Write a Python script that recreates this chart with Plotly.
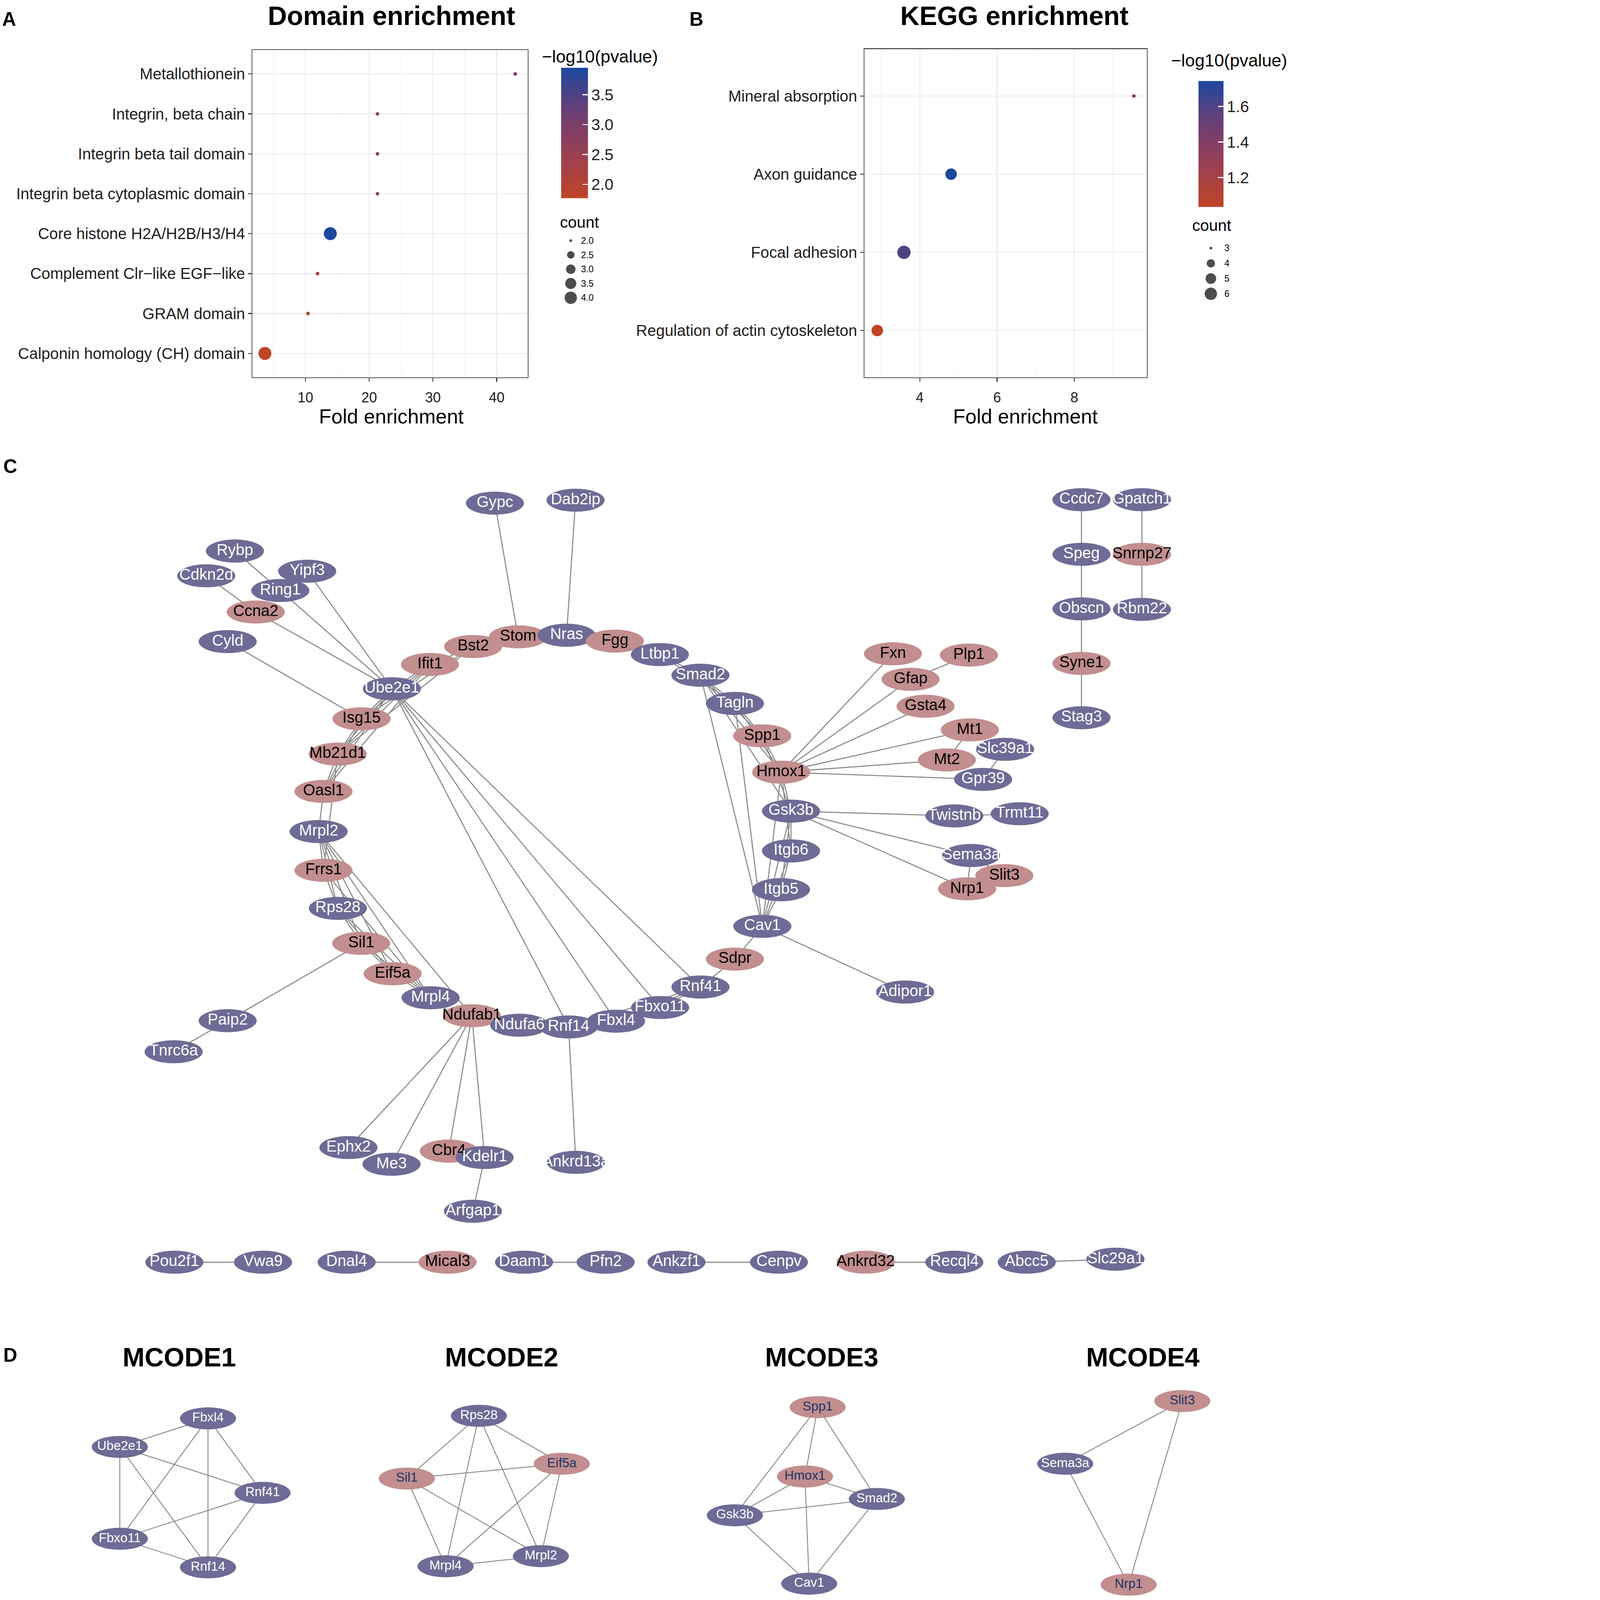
import numpy as np
import plotly.graph_objects as go

FONT = "Liberation Sans, Arial, Helvetica, sans-serif"
W, H = 4299, 5312
DW, DH = 1270.0, 1568.0          # design grid used for panels C/D and labels

# ---------------------------------------------------------------- Panel A data
domain_terms = ["Metallothionein", "Integrin, beta chain", "Integrin beta tail domain",
                "Integrin beta cytoplasmic domain", "Core histone H2A/H2B/H3/H4",
                "Complement Clr\u2212like EGF\u2212like", "GRAM domain",
                "Calponin homology (CH) domain"]
domain_fold = [42.9, 21.3, 21.3, 21.3, 13.9, 11.9, 10.4, 3.65]
domain_logp = [3.15, 2.55, 2.55, 2.55, 3.95, 2.25, 2.15, 1.77]
domain_count = [2, 2, 2, 2, 4, 2, 2, 4]
domain_x_ticks = [10, 20, 30, 40]
domain_cbar_ticks = [2.0, 2.5, 3.0, 3.5]
domain_count_breaks = [2.0, 2.5, 3.0, 3.5, 4.0]

# ---------------------------------------------------------------- Panel B data
kegg_terms = ["Mineral absorption", "Axon guidance", "Focal adhesion",
              "Regulation of actin cytoskeleton"]
kegg_fold = [9.54, 4.81, 3.59, 2.90]
kegg_logp = [1.38, 1.743, 1.60, 1.035]
kegg_count = [3, 5, 6, 5]
kegg_x_ticks = [4, 6, 8]
kegg_cbar_ticks = [1.2, 1.4, 1.6]
kegg_count_breaks = [3, 4, 5, 6]

# ---------------------------------------------------------------- Panel C data
net_nodes = ["Gypc", "Dab2ip", "Rybp", "Cdkn2d", "Yipf3", "Ring1", "Ccna2", "Cyld",
             "Ube2e1", "Ifit1", "Bst2", "Stom", "Nras", "Fgg", "Ltbp1", "Smad2", "Tagln",
             "Spp1", "Hmox1", "Gsk3b", "Itgb6", "Itgb5", "Cav1", "Sdpr", "Rnf41", "Fbxo11",
             "Ndufab1", "Ndufa6", "Rnf14", "Fbxl4", "Mrpl4", "Eif5a", "Sil1", "Rps28",
             "Frrs1", "Mrpl2", "Oasl1", "Mb21d1", "Isg15",
             "Fxn", "Plp1", "Gfap", "Gsta4", "Mt1", "Mt2", "Slc39a1", "Gpr39", "Twistnb",
             "Trmt11", "Sema3a", "Nrp1", "Slit3", "Adipor1",
             "Paip2", "Tnrc6a", "Ephx2", "Me3", "Cbr4", "Kdelr1", "Arfgap1", "Ankrd13a",
             "Ccdc7", "Gpatch1", "Speg", "Snrnp27", "Obscn", "Rbm22", "Syne1", "Stag3",
             "Pou2f1", "Vwa9", "Dnal4", "Mical3", "Daam1", "Pfn2", "Ankzf1", "Cenpv",
             "Ankrd32", "Recql4", "Abcc5", "Slc29a1"]
net_x = [485.4, 564.5, 230.4, 202.3, 301.3, 274.9, 250.8, 223.3,
         384.4, 421.7, 464.1, 508.1, 555.7, 603.1, 647.2, 687.0, 720.8,
         747.6, 766.2, 775.8, 775.8, 766.0, 747.7, 720.8, 687.0, 647.4,
         462.8, 509.3, 557.7, 604.2, 422.3, 385.1, 354.3, 331.4,
         317.3, 312.5, 317.3, 331.2, 354.6,
         875.8, 950.3, 893.1, 907.8, 951.2, 928.7, 985.8, 964.2, 936.0,
         1000.1, 952.4, 948.5, 985.0, 887.7,
         223.3, 170.3, 341.8, 384.0, 440.2, 475.3, 463.8, 564.8,
         1060.7, 1120.0, 1060.7, 1120.0, 1060.7, 1120.0, 1060.7, 1060.7,
         171, 258, 340, 439, 514, 594, 663.5, 764, 849, 936, 1007, 1094]
net_y = [493.1, 490.2, 540.0, 564.3, 559.8, 578.7, 599.8, 628.8,
         675.0, 651.2, 633.6, 624.1, 622.5, 628.3, 641.5, 661.7, 689.4,
         721.1, 756.7, 794.9, 833.9, 871.9, 907.8, 939.9, 967.3, 987.4,
         995.4, 1004.7, 1006.4, 1000.8, 977.8, 954.3, 924.5, 890.2,
         852.9, 814.9, 775.6, 739.0, 704.5,
         640.7, 642.0, 665.7, 692.1, 715.3, 744.8, 734.3, 763.8, 799.6,
         797.5, 838.4, 871.1, 858.1, 972.2,
         1000.3, 1030.7, 1124.6, 1141.0, 1128.1, 1134.4, 1187.0, 1139.1,
         489.7, 489.7, 543.2, 543.2, 596.7, 597.2, 650.2, 703.4,
         1237, 1237, 1237, 1237, 1237, 1237, 1237, 1237, 1237, 1237, 1237, 1234]
pink_nodes = {"Ccna2", "Ifit1", "Bst2", "Stom", "Fgg", "Spp1", "Hmox1", "Sdpr", "Ndufab1",
              "Eif5a", "Sil1", "Frrs1", "Oasl1", "Mb21d1", "Isg15", "Fxn", "Plp1", "Gfap",
              "Gsta4", "Mt1", "Mt2", "Nrp1", "Slit3", "Cbr4", "Snrnp27", "Syne1", "Mical3",
              "Ankrd32"}
net_edges = [
    ("Rybp", "Ring1"), ("Ring1", "Ube2e1"), ("Yipf3", "Ube2e1"), ("Cdkn2d", "Ccna2"),
    ("Ccna2", "Ube2e1"), ("Cyld", "Isg15"), ("Gypc", "Stom"), ("Dab2ip", "Nras"),
    ("Ube2e1", "Ifit1"), ("Ube2e1", "Isg15"), ("Ube2e1", "Mb21d1"), ("Ube2e1", "Oasl1"),
    ("Ifit1", "Isg15"), ("Ifit1", "Mb21d1"), ("Ifit1", "Oasl1"), ("Bst2", "Ifit1"),
    ("Bst2", "Isg15"), ("Bst2", "Mb21d1"), ("Isg15", "Mb21d1"), ("Isg15", "Oasl1"),
    ("Mb21d1", "Oasl1"), ("Mb21d1", "Frrs1"), ("Oasl1", "Mrpl2"), ("Mrpl2", "Frrs1"),
    ("Mrpl2", "Rps28"), ("Mrpl2", "Sil1"), ("Mrpl2", "Eif5a"), ("Mrpl2", "Mrpl4"),
    ("Mrpl2", "Ndufab1"), ("Frrs1", "Rps28"), ("Frrs1", "Mrpl4"), ("Rps28", "Sil1"),
    ("Rps28", "Eif5a"), ("Rps28", "Mrpl4"), ("Sil1", "Eif5a"), ("Sil1", "Mrpl4"),
    ("Eif5a", "Mrpl4"), ("Sil1", "Paip2"), ("Paip2", "Tnrc6a"), ("Ndufab1", "Ndufa6"),
    ("Ndufab1", "Ephx2"), ("Ndufab1", "Me3"), ("Ndufab1", "Cbr4"), ("Ndufab1", "Kdelr1"),
    ("Kdelr1", "Arfgap1"), ("Rnf14", "Ankrd13a"), ("Ube2e1", "Rnf14"), ("Ube2e1", "Fbxl4"),
    ("Ube2e1", "Fbxo11"), ("Ube2e1", "Rnf41"), ("Rnf41", "Fbxo11"), ("Rnf41", "Fbxl4"),
    ("Rnf41", "Rnf14"), ("Fbxo11", "Fbxl4"), ("Fbxo11", "Rnf14"), ("Fbxl4", "Rnf14"),
    ("Rnf41", "Sdpr"), ("Sdpr", "Cav1"), ("Cav1", "Adipor1"), ("Cav1", "Itgb5"),
    ("Cav1", "Itgb6"), ("Cav1", "Gsk3b"), ("Cav1", "Hmox1"), ("Cav1", "Tagln"),
    ("Cav1", "Smad2"), ("Itgb5", "Itgb6"), ("Itgb5", "Gsk3b"), ("Itgb6", "Gsk3b"),
    ("Itgb6", "Hmox1"), ("Gsk3b", "Hmox1"), ("Gsk3b", "Spp1"), ("Gsk3b", "Smad2"),
    ("Hmox1", "Spp1"), ("Hmox1", "Smad2"), ("Spp1", "Smad2"), ("Spp1", "Tagln"),
    ("Tagln", "Smad2"), ("Tagln", "Ltbp1"), ("Ltbp1", "Smad2"), ("Tagln", "Hmox1"),
    ("Hmox1", "Fxn"), ("Hmox1", "Gfap"), ("Gfap", "Plp1"), ("Hmox1", "Gsta4"),
    ("Hmox1", "Mt1"), ("Hmox1", "Mt2"), ("Mt1", "Mt2"), ("Hmox1", "Gpr39"),
    ("Slc39a1", "Gpr39"), ("Gsk3b", "Twistnb"), ("Twistnb", "Trmt11"), ("Gsk3b", "Sema3a"),
    ("Gsk3b", "Nrp1"), ("Sema3a", "Nrp1"), ("Sema3a", "Slit3"), ("Slit3", "Nrp1"),
    ("Ccdc7", "Speg"), ("Speg", "Obscn"), ("Obscn", "Syne1"), ("Syne1", "Stag3"),
    ("Gpatch1", "Snrnp27"), ("Snrnp27", "Rbm22"), ("Pou2f1", "Vwa9"), ("Dnal4", "Mical3"),
    ("Daam1", "Pfn2"), ("Ankzf1", "Cenpv"), ("Ankrd32", "Recql4"), ("Abcc5", "Slc29a1"),
]

# ---------------------------------------------------------------- Panel D data
mcode_titles = ["MCODE1", "MCODE2", "MCODE3", "MCODE4"]
mcode1_nodes = ["Fbxl4", "Ube2e1", "Rnf41", "Fbxo11", "Rnf14"]
mcode1_x = [204, 117.5, 257.5, 117.5, 204]
mcode1_y = [1390, 1418, 1463, 1508, 1536]
mcode1_edges = [("Ube2e1", "Fbxl4"), ("Ube2e1", "Rnf41"), ("Ube2e1", "Fbxo11"), ("Ube2e1", "Rnf14"),
                ("Fbxl4", "Rnf41"), ("Fbxl4", "Fbxo11"), ("Fbxl4", "Rnf14"), ("Rnf41", "Fbxo11"),
                ("Rnf41", "Rnf14"), ("Fbxo11", "Rnf14")]
mcode2_nodes = ["Rps28", "Eif5a", "Sil1", "Mrpl4", "Mrpl2"]
mcode2_x = [469.7, 551, 399, 437, 530.5]
mcode2_y = [1387.5, 1434.5, 1449, 1535, 1525]
mcode2_edges = [("Rps28", "Sil1"), ("Rps28", "Eif5a"), ("Rps28", "Mrpl4"), ("Rps28", "Mrpl2"),
                ("Sil1", "Eif5a"), ("Sil1", "Mrpl4"), ("Sil1", "Mrpl2"), ("Eif5a", "Mrpl4"),
                ("Eif5a", "Mrpl2"), ("Mrpl4", "Mrpl2")]
mcode3_nodes = ["Spp1", "Hmox1", "Smad2", "Gsk3b", "Cav1"]
mcode3_x = [802, 789.5, 860, 720.7, 793.6]
mcode3_y = [1379, 1447, 1469, 1485, 1552]
mcode3_edges = [("Spp1", "Gsk3b"), ("Spp1", "Hmox1"), ("Spp1", "Smad2"), ("Hmox1", "Gsk3b"),
                ("Hmox1", "Smad2"), ("Hmox1", "Cav1"), ("Gsk3b", "Smad2"), ("Gsk3b", "Cav1"),
                ("Smad2", "Cav1")]
mcode4_nodes = ["Slit3", "Sema3a", "Nrp1"]
mcode4_x = [1159.6, 1044.7, 1107]
mcode4_y = [1373, 1434.5, 1553]
mcode4_edges = [("Slit3", "Sema3a"), ("Slit3", "Nrp1"), ("Sema3a", "Nrp1")]

# ---------------------------------------------------------------- styling
CSCALE = [[0, "#BF4426"], [0.25, "#A44147"], [0.5, "#853E63"], [0.75, "#59407F"], [1, "#1C479E"]]
PINK, PURPLE, EDGE = "#C28E8E", "#6E6B96", "#888888"
AX_TEXT = "#1E1E1E"


def dot_size(c, lo, hi, dmin=9, dmax=41):
    return dmin + (dmax - dmin) * np.sqrt((np.asarray(c, float) - lo) / (hi - lo))


def expand(vals, f=0.05):
    lo, hi = min(vals), max(vals)
    return [lo - f * (hi - lo), hi + f * (hi - lo)]


fig = go.Figure()

# ---- Panel A / B points
fig.add_trace(go.Scatter(x=domain_fold, y=domain_terms, mode="markers", xaxis="x", yaxis="y",
                         marker=dict(size=dot_size(domain_count, min(domain_count), max(domain_count), 12, 43),
                                     color=domain_logp, coloraxis="coloraxis", opacity=1,
                                     line=dict(width=0)),
                         showlegend=False, hoverinfo="skip"))
fig.add_trace(go.Scatter(x=kegg_fold, y=kegg_terms, mode="markers", xaxis="x2", yaxis="y2",
                         marker=dict(size=dot_size(kegg_count, min(kegg_count), max(kegg_count), 12, 44),
                                     color=kegg_logp, coloraxis="coloraxis2", opacity=1,
                                     line=dict(width=0)),
                         showlegend=False, hoverinfo="skip"))

# ---- size legends (drawn on the overlay grid)
legA_x, legA_y0, legA_dy = 559.8, 235.8, 14.0
legB_x, legB_y0, legB_dy = 1187.6, 243.2, 14.9
fig.add_trace(go.Scatter(x=[legA_x] * len(domain_count_breaks),
                         y=[legA_y0 + i * legA_dy for i in range(len(domain_count_breaks))],
                         mode="markers", xaxis="x3", yaxis="y3", hoverinfo="skip", showlegend=False,
                         marker=dict(color="black", line=dict(width=0),
                                     size=dot_size(domain_count_breaks, min(domain_count_breaks),
                                                   max(domain_count_breaks)))))
fig.add_trace(go.Scatter(x=[legB_x] * len(kegg_count_breaks),
                         y=[legB_y0 + i * legB_dy for i in range(len(kegg_count_breaks))],
                         mode="markers", xaxis="x3", yaxis="y3", hoverinfo="skip", showlegend=False,
                         marker=dict(color="black", line=dict(width=0),
                                     size=dot_size(kegg_count_breaks, min(kegg_count_breaks),
                                                   max(kegg_count_breaks)))))

annotations = []


def ann(text, x, y, size, bold=False, xanchor="center", color="black", yanchor="middle"):
    annotations.append(dict(text=text, x=x, y=y, xref="x3", yref="y3", showarrow=False,
                            xanchor=xanchor, yanchor=yanchor,
                            font=dict(family=FONT, size=size, color=color,
                                      weight="bold" if bold else "normal")))


for i, v in enumerate(domain_count_breaks):
    ann(f"{v:.1f}", legA_x + 9.5, legA_y0 + i * legA_dy, 30, xanchor="left")
for i, v in enumerate(kegg_count_breaks):
    ann(f"{v}", legB_x + 12.7, legB_y0 + i * legB_dy, 30, xanchor="left")

ann("count", 548.6, 217.8, 53, xanchor="left")
ann("count", 1168.7, 220.8, 53, xanchor="left")
ann("\u2212log10(pvalue)", 530.9, 55.2, 58, xanchor="left")
ann("\u2212log10(pvalue)", 1148.0, 59.0, 58, xanchor="left")
ann("Domain enrichment", 384, 15.5, 88, bold=True)
ann("KEGG enrichment", 995, 15.5, 88, bold=True)
ann("Fold enrichment", 384, 408, 67)
ann("Fold enrichment", 1005.6, 408, 67)
for lab, (lx, ly) in zip(["A", "B", "C", "D"], [(9, 19), (683, 19), (10, 457), (10, 1328)]):
    ann(lab, lx, ly, 64, bold=True)
for t, tx in zip(mcode_titles, [176, 492, 806, 1121]):
    ann(t, tx, 1330, 88, bold=True)

# ---- network shapes
shapes = []
pos = {n: (x, y) for n, x, y in zip(net_nodes, net_x, net_y)}


def edge_shapes(edges, p, width):
    for a, b in edges:
        shapes.append(dict(type="line", xref="x3", yref="y3", x0=p[a][0], y0=p[a][1],
                           x1=p[b][0], y1=p[b][1], line=dict(color=EDGE, width=width),
                           layer="below"))


def node_shapes(names, p, rx, ry):
    for n in names:
        x, y = p[n]
        shapes.append(dict(type="circle", xref="x3", yref="y3", x0=x - rx, x1=x + rx,
                           y0=y - ry, y1=y + ry, fillcolor=PINK if n in pink_nodes else PURPLE,
                           line=dict(width=0), layer="below"))


edge_shapes(net_edges, pos, 3.5)
node_shapes(net_nodes, pos, 28.5, 11.3)
fig.add_trace(go.Scatter(x=net_x, y=net_y, text=net_nodes, mode="text", xaxis="x3", yaxis="y3",
                         textposition="middle center", hoverinfo="skip", showlegend=False,
                         textfont=dict(family=FONT, size=52,
                                       color=["black" if n in pink_nodes else "white"
                                              for n in net_nodes])))

clusters = [(mcode1_nodes, mcode1_x, mcode1_y, mcode1_edges),
            (mcode2_nodes, mcode2_x, mcode2_y, mcode2_edges),
            (mcode3_nodes, mcode3_x, mcode3_y, mcode3_edges),
            (mcode4_nodes, mcode4_x, mcode4_y, mcode4_edges)]
for names, xs, ys, edges in clusters:
    p = {n: (x, y) for n, x, y in zip(names, xs, ys)}
    edge_shapes(edges, p, 3)
for names, xs, ys, edges in clusters:
    p = {n: (x, y) for n, x, y in zip(names, xs, ys)}
    node_shapes(names, p, 27.5, 10.8)
    fig.add_trace(go.Scatter(x=xs, y=ys, text=names, mode="text", xaxis="x3", yaxis="y3",
                             textposition="middle center", hoverinfo="skip", showlegend=False,
                             textfont=dict(family=FONT, size=43,
                                           color=["#1B3466" if n in pink_nodes else "white"
                                                  for n in names])))

# ---- white colorbar ticks on the left edge of each bar (ggplot style)
cbA = dict(x=1863 / W, y=1 - 441.5 / H, len=433 / H, th=89)
cbB = dict(x=3979 / W, y=1 - 478 / H, len=418 / H, th=83)
for cb, vals, ticks in [(cbA, domain_logp, domain_cbar_ticks), (cbB, kegg_logp, kegg_cbar_ticks)]:
    lo, hi = min(vals), max(vals)
    for v in ticks:
        yy = cb["y"] - cb["len"] / 2 + (v - lo) / (hi - lo) * cb["len"]
        shapes.append(dict(type="line", xref="paper", yref="paper", x0=cb["x"],
                           x1=cb["x"] + 18 / W, y0=yy, y1=yy,
                           line=dict(color="white", width=3), layer="above"))


def cbar(cb, ticks):
    return dict(x=cb["x"], xanchor="left", xpad=0, y=cb["y"], yanchor="middle",
                len=cb["len"], lenmode="fraction", thickness=cb["th"], ypad=0,
                outlinewidth=0, tickvals=ticks, ticktext=[f"{t:.1f}" for t in ticks],
                ticks="inside", ticklen=18, tickwidth=3, tickcolor="white",
                tickfont=dict(family=FONT, size=53, color=AX_TEXT))


def xax(domain, rng, ticks, anchor, minor_dtick, minor_t0):
    return dict(domain=domain, range=rng, tickvals=ticks, anchor=anchor, ticks="outside",
                ticklen=11, tickwidth=3, tickcolor="#333333", showgrid=True,
                gridcolor="#EBEBEB", gridwidth=3, zeroline=False, showline=True, mirror=True,
                linecolor="#555555", linewidth=3, ticklabelstandoff=12,
                tickfont=dict(family=FONT, size=47, color=AX_TEXT),
                minor=dict(showgrid=True, dtick=minor_dtick, tick0=minor_t0,
                           gridcolor="#F3F3F3", gridwidth=2), fixedrange=True)


def yax(domain, terms, anchor):
    return dict(domain=domain, type="category", categoryorder="array",
                categoryarray=list(reversed(terms)), range=[-0.6, len(terms) - 0.4],
                anchor=anchor, ticks="outside", ticklen=11, tickwidth=3, tickcolor="#333333",
                showgrid=True, gridcolor="#EBEBEB", gridwidth=3, zeroline=False, showline=True,
                mirror=True, linecolor="#555555", linewidth=3,
                tickfont=dict(family=FONT, size=52, color=AX_TEXT), fixedrange=True)


fig.update_layout(
    width=W, height=H, margin=dict(l=0, r=0, t=0, b=0, pad=0),
    paper_bgcolor="white", plot_bgcolor="rgba(0,0,0,0)", showlegend=False,
    xaxis=xax([838 / W, 1752 / W], expand(domain_fold), domain_x_ticks, "y", 10, 5),
    yaxis=yax([1 - 1253 / H, 1 - 166 / H], domain_terms, "x"),
    xaxis2=xax([2870 / W, 3807 / W], expand(kegg_fold), kegg_x_ticks, "y2", 2, 3),
    yaxis2=yax([1 - 1253 / H, 1 - 163 / H], kegg_terms, "x2"),
    xaxis3=dict(domain=[0, 1], range=[0, DW], visible=False, anchor="y3", fixedrange=True),
    yaxis3=dict(domain=[0, 1], range=[DH, 0], visible=False, anchor="x3", fixedrange=True),
    coloraxis=dict(colorscale=CSCALE, cmin=min(domain_logp), cmax=max(domain_logp),
                   colorbar=cbar(cbA, domain_cbar_ticks)),
    coloraxis2=dict(colorscale=CSCALE, cmin=min(kegg_logp), cmax=max(kegg_logp),
                    colorbar=cbar(cbB, kegg_cbar_ticks)),
    shapes=shapes, annotations=annotations,
)

# keep the whole figure inside the browser viewport if it is smaller than the figure
FIT_JS = """
(function(){
  var gd = document.getElementById('{plot_id}');
  document.documentElement.style.margin = '0';
  document.body.style.margin = '0';
  document.body.style.overflow = 'hidden';
  var s = Math.min(window.innerWidth / 4299, window.innerHeight / 5312, 1);
  if (s < 0.999) { gd.style.transformOrigin = '0 0'; gd.style.transform = 'scale(' + s + ')'; }
})();
"""
fig.write_html("out.html", post_script=FIT_JS, config={"displayModeBar": False})
